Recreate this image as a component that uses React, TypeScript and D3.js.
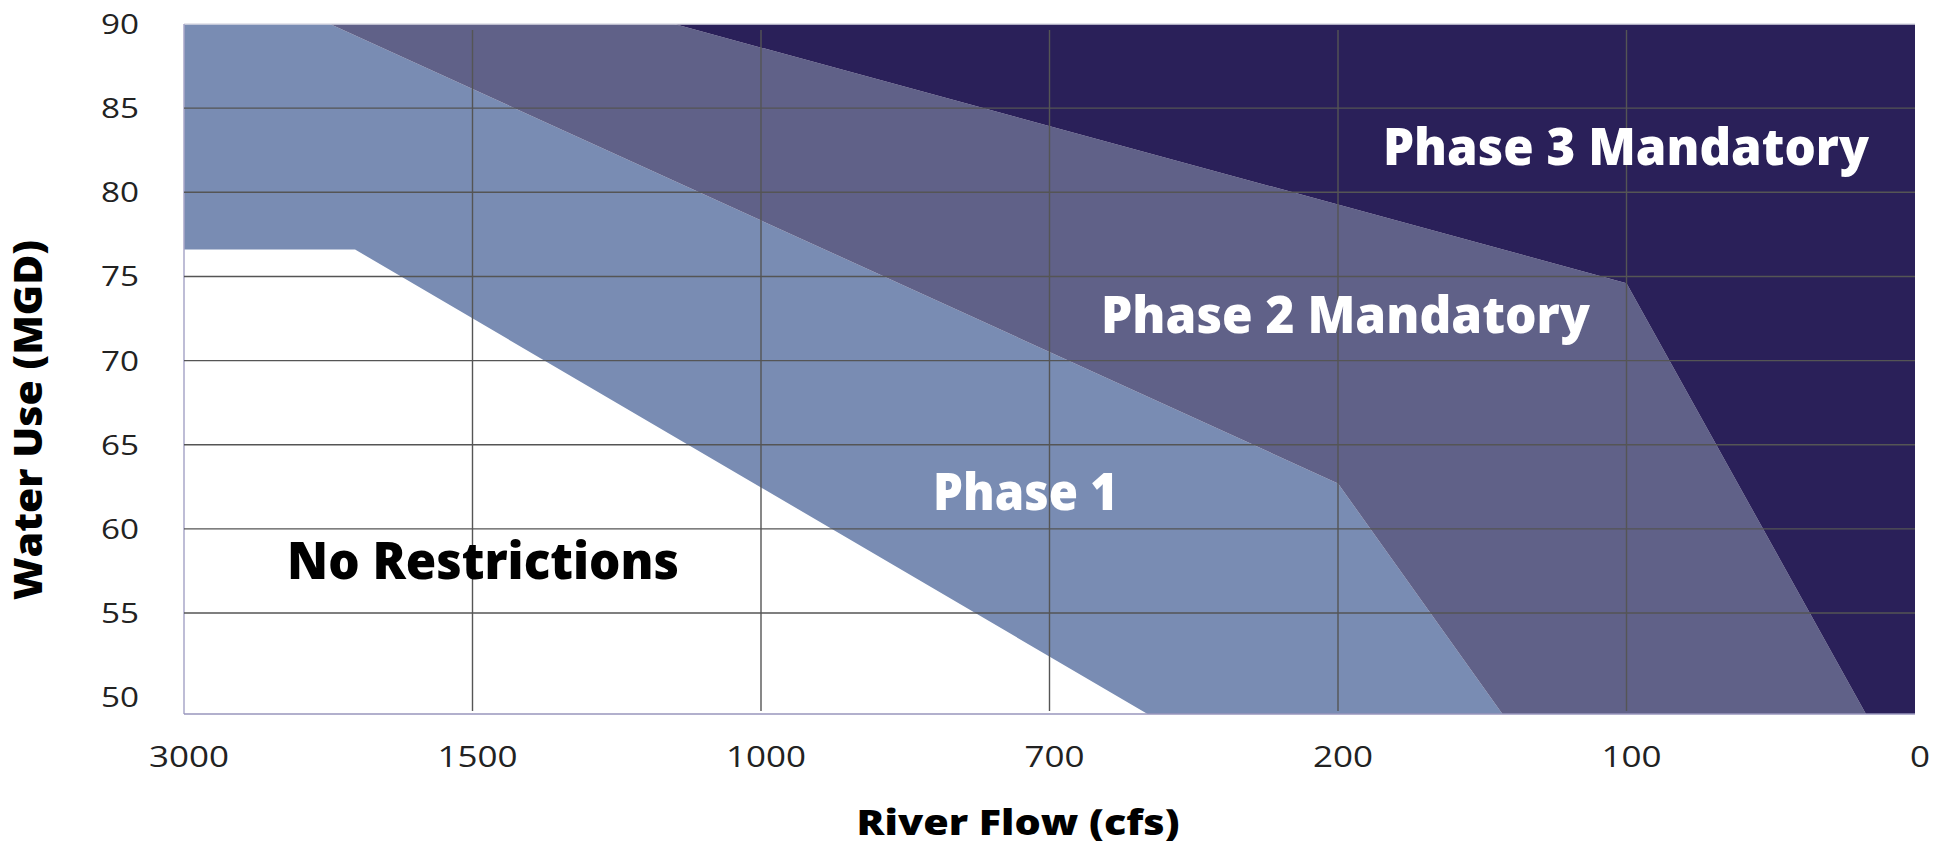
import React from "react";
import * as d3 from "d3";

// X axis: river flow tick labels (evenly spaced, index positions 0..6)
const flowTicks: string[] = ["3000", "1500", "1000", "700", "200", "100", "0"];
// Y axis: water use ticks (MGD)
const useTicks: number[] = [90, 85, 80, 75, 70, 65, 60, 55, 50];
const useGrid: number[] = [85, 80, 75, 70, 65, 60, 55];

// Boundaries between phases, as [flow position (tick index), water use MGD]
const boundaryNoRestrPhase1: [number, number][] = [
  [0, 76.6],
  [0.593, 76.6],
  [3.34, 49],
];
const boundaryPhase1Phase2: [number, number][] = [
  [0.506, 90],
  [4.0, 62.7],
  [4.57, 49],
];
const boundaryPhase2Phase3: [number, number][] = [
  [1.7, 90],
  [5.0, 74.6],
  [5.83, 49],
];

const zoneNames: string[] = ["No Restrictions", "Phase 1", "Phase 2 Mandatory", "Phase 3 Mandatory"];
const zoneColors: string[] = ["#ffffff", "#798CB3", "#606188", "#2A2059"];
const labelColors: string[] = ["#000000", "#ffffff", "#ffffff", "#ffffff"];

const W = 1950;
const H = 845;
const FLOW_MIN = 0;
const FLOW_MAX = 6;
const USE_MIN = 49;
const USE_MAX = 90;

export default function App() {
  const x = d3.scaleLinear().domain([FLOW_MIN, FLOW_MAX]).range([184, 1915]);
  const y = d3.scaleLinear().domain([USE_MIN, USE_MAX]).range([714, 24]);

  const line = d3
    .line<[number, number]>()
    .x((d) => x(d[0]))
    .y((d) => y(d[1]));

  const rev = (a: [number, number][]) => a.slice().reverse();

  const phase1: [number, number][] = [
    [FLOW_MIN, USE_MAX],
    ...boundaryPhase1Phase2,
    ...rev(boundaryNoRestrPhase1),
  ];
  const phase2: [number, number][] = [
    ...boundaryPhase2Phase3,
    ...rev(boundaryPhase1Phase2),
  ];
  const phase3: [number, number][] = [
    ...boundaryPhase2Phase3,
    [FLOW_MAX, USE_MIN],
    [FLOW_MAX, USE_MAX],
  ];

  const font = "'Open Sans', 'DejaVu Sans', sans-serif";

  // label placements: [left x px, baseline y px, text width]
  const labelPos: [number, number, number][] = [
    [287, 579, 392],
    [933, 510, 185],
    [1101, 333, 489],
    [1383, 165, 486],
  ];

  return (
    <svg
      width={W}
      height={H}
      style={{ position: "absolute", left: 0, top: 0, background: "#fff" }}
      xmlns="http://www.w3.org/2000/svg"
    >
      <rect x={0} y={0} width={W} height={H} fill="#fff" />
      <path d={line(phase1) + "Z"} fill={zoneColors[1]} />
      <path d={line(phase2) + "Z"} fill={zoneColors[2]} />
      <path d={line(phase3) + "Z"} fill={zoneColors[3]} />

      <line x1={x(FLOW_MIN)} x2={x(FLOW_MAX)} y1={y(USE_MAX)} y2={y(USE_MAX)} stroke="#dcdce6" strokeWidth={1.5} />
      <line x1={x(FLOW_MIN)} x2={x(FLOW_MIN)} y1={y(USE_MAX)} y2={y(USE_MIN)} stroke="#a9a7c8" strokeWidth={1.5} />

      {useGrid.map((v) => (
        <line key={"h" + v} x1={x(FLOW_MIN)} x2={x(FLOW_MAX)} y1={y(v)} y2={y(v)} stroke="#555" strokeWidth={1.4} />
      ))}
      {flowTicks.slice(1, -1).map((t, i) => (
        <line key={"v" + t} x1={x(i + 1)} x2={x(i + 1)} y1={30} y2={711} stroke="#555" strokeWidth={1.4} />
      ))}
      <line x1={x(FLOW_MIN)} x2={x(FLOW_MAX)} y1={y(USE_MIN)} y2={y(USE_MIN)} stroke="#9896bd" strokeWidth={1.5} />

      {zoneNames.map((n, i) => (
        <text
          key={n}
          x={labelPos[i][0]}
          y={labelPos[i][1]}
          fill={labelColors[i]}
          fontFamily={font}
          fontWeight={800}
          fontSize={51}
          textLength={labelPos[i][2]}
          lengthAdjust="spacingAndGlyphs"
        >
          {n}
        </text>
      ))}

      {useTicks.map((v) => (
        <text key={"yt" + v} x={101} y={y(v) + 10} fill="#222" fontFamily={font} fontSize={28} textLength={38} lengthAdjust="spacingAndGlyphs">
          {v}
        </text>
      ))}
      {flowTicks.map((t, i) => (
        <text
          key={"xt" + t}
          x={x(i) + 5}
          y={767}
          textAnchor="middle"
          fill="#222"
          fontFamily={font}
          fontSize={29}
          textLength={t.length * 20}
          lengthAdjust="spacingAndGlyphs"
        >
          {t}
        </text>
      ))}

      <text
        x={1018}
        y={835}
        textAnchor="middle"
        fill="#000"
        fontFamily={font}
        fontWeight={800}
        fontSize={35}
        textLength={323}
        lengthAdjust="spacingAndGlyphs"
      >
        River Flow (cfs)
      </text>
      <text
        transform="translate(42,420) rotate(-90)"
        textAnchor="middle"
        fill="#000"
        fontFamily={font}
        fontWeight={800}
        fontSize={38}
        textLength={360}
        lengthAdjust="spacingAndGlyphs"
      >
        Water Use (MGD)
      </text>
    </svg>
  );
}
